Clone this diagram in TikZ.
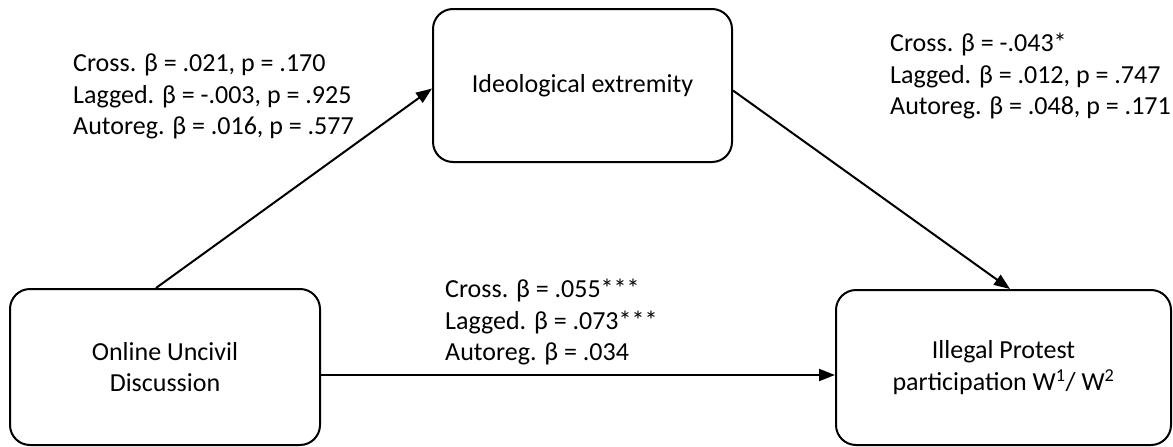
\documentclass[tikz,border=0pt]{standalone}
\usepackage{fontspec}
\setmainfont{Carlito}
\usetikzlibrary{arrows.meta}
\begin{document}
\begin{tikzpicture}[x=1pt,y=-1pt,
  box/.style={draw,line width=2pt,rounded corners=20pt,inner sep=0pt,align=center,
    font=\fontsize{26}{31.5}\selectfont},
  lab/.style={inner sep=0pt,align=left,anchor=north west,font=\fontsize{26}{31.5}\selectfont},
  conn/.style={line width=2pt,-{Triangle[length=16pt,width=12pt]}}]
\useasboundingbox (0,0) rectangle (1173,447);
\node[box,minimum width=310pt,minimum height=156pt] (ode) at (165,367) {Online Uncivil\\Discussion};
\node[box,minimum width=299pt,minimum height=153pt] (ide) at (582.5,85.5) {Ideological extremity};
\node[box,minimum width=335pt,minimum height=155pt] (ill) at (1003.5,367.5) {Illegal Protest\\participation W\textsuperscript{1}/ W\textsuperscript{2}};
\node[lab] (l1) at (73,54) {Cross. β = .021, p = .170\\Lagged. β = -.003, p = .925\\Autoreg. β = .016, p = .577};
\node[lab] (l2) at (890,33) {Cross. β = -.043*\\Lagged. β = .012, p = .747\\Autoreg. β = .048, p = .171};
\node[lab] (l3) at (445,279) {Cross. β = .055***\\Lagged. β = .073***\\Autoreg. β = .034};
\draw[conn] ([xshift=147pt]ode.north west) -- ([yshift=-3pt]ide.west);
\draw[conn] ([yshift=-5pt]ide.east) -- ([xshift=6.5pt]ill.north);
\draw[conn] ([yshift=-8pt]ode.east) -- ([yshift=-7.5pt]ill.west);
\end{tikzpicture}
\end{document}
